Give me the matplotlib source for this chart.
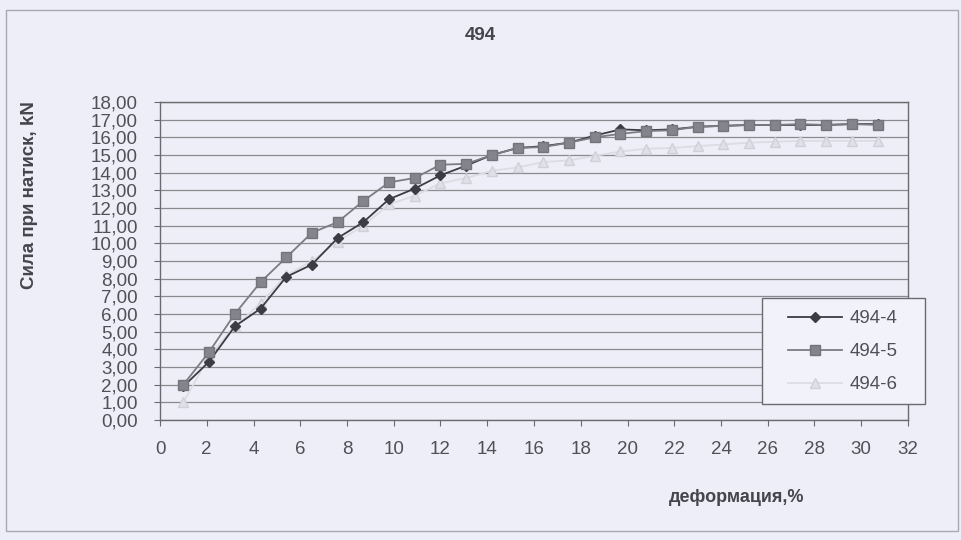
import matplotlib
matplotlib.use("Agg")
import matplotlib.pyplot as plt
from matplotlib.patches import Rectangle
from matplotlib.ticker import FuncFormatter, MultipleLocator

plt.rcParams['font.family'] = ['Liberation Sans', 'DejaVu Sans']

# deformation, %
deformation = [1.0, 2.1, 3.2, 4.3, 5.4, 6.5, 7.6, 8.7, 9.8, 10.9, 12.0, 13.1, 14.2, 15.3,
               16.4, 17.5, 18.6, 19.7, 20.8, 21.9, 23.0, 24.1, 25.2, 26.3, 27.4, 28.5, 29.6, 30.7]

# compression force, kN
s494_4 = [1.9, 3.3, 5.3, 6.3, 8.1, 8.8, 10.3, 11.2, 12.5, 13.1, 13.85, 14.4, 15.0, 15.4,
          15.5, 15.7, 16.1, 16.45, 16.4, 16.45, 16.6, 16.65, 16.7, 16.7, 16.7, 16.7, 16.75, 16.75]
s494_5 = [2.0, 3.85, 6.0, 7.8, 9.2, 10.6, 11.2, 12.4, 13.45, 13.7, 14.45, 14.5, 15.0, 15.4,
          15.45, 15.7, 16.0, 16.2, 16.35, 16.4, 16.6, 16.65, 16.7, 16.7, 16.75, 16.7, 16.75, 16.7]
s494_6 = [1.0, 3.6, 5.3, 6.6, 8.2, 9.0, 10.1, 11.0, 12.2, 12.7, 13.4, 13.7, 14.1, 14.3,
          14.6, 14.7, 14.95, 15.2, 15.35, 15.4, 15.5, 15.6, 15.7, 15.75, 15.8, 15.8, 15.8, 15.8]

labels = ['494-4', '494-5', '494-6']
title = '494'
xlabel = 'деформация,%'
ylabel = 'Сила при натиск, kN'

bg = '#eeeef8'
W, H = 962, 540
fig = plt.figure(figsize=(W / 100, H / 100), dpi=100, facecolor=bg)


def fig_rect(x0, y0, x1, y1, **kw):
    """Rectangle given in pixel coordinates measured from the top-left corner."""
    return Rectangle((x0 / W, 1 - y1 / H), (x1 - x0) / W, (y1 - y0) / H,
                     transform=fig.transFigure, **kw)


# outer chart frame
fig.add_artist(fig_rect(6, 10, 958, 531, fill=False, edgecolor='#a8a8b4', lw=1.0))

left, right, top, bottom = 160, 908, 102, 420
ax = fig.add_axes([left / W, 1 - bottom / H, (right - left) / W, (bottom - top) / H])
ax.set_facecolor(bg)

ax.set_xlim(0, 32)
ax.set_ylim(0, 18)
ax.xaxis.set_major_locator(MultipleLocator(2))
ax.yaxis.set_major_locator(MultipleLocator(1))
ax.yaxis.set_major_formatter(FuncFormatter(lambda v, p: f'{v:.2f}'.replace('.', ',')))
ax.grid(axis='y', color='#8a8a90', lw=0.9)
ax.set_axisbelow(True)
for s in ax.spines.values():
    s.set_color('#6a6a70')
    s.set_linewidth(1.0)
ax.tick_params(axis='both', colors='#6a6a70', labelcolor='#505058', labelsize=13.5,
               direction='out', length=4)
ax.tick_params(axis='x', pad=11)
ax.tick_params(axis='y', pad=12)

ax.plot(deformation, s494_6, color='#dcdce4', lw=1.3, marker='^', ms=7,
        mfc='#e0e0e8', mec='#d0d0d8', label=labels[2], zorder=3)
ax.plot(deformation, s494_4, color='#3c3c44', lw=1.3, marker='D', ms=5.5,
        mfc='#3c3c44', mec='#3c3c44', label=labels[0], zorder=4)
ax.plot(deformation, s494_5, color='#7c7c84', lw=1.3, marker='s', ms=7,
        mfc='#84848c', mec='#74747c', label=labels[1], zorder=5)

# legend frame, drawn on its own so it can reach past the plot area
fig.add_artist(fig_rect(762, 298, 925, 404, facecolor='#f2f2fa', edgecolor='#6a6a70',
                        lw=1.0, zorder=6))

handles, hl = ax.get_legend_handles_labels()
order = [1, 2, 0]
leg = fig.legend([handles[i] for i in order], [hl[i] for i in order],
                 loc='upper left', bbox_to_anchor=(788 / W, 1 - 310 / H),
                 bbox_transform=fig.transFigure, frameon=False, fontsize=13.5,
                 handlelength=2.9, labelspacing=0.85, borderpad=0, handletextpad=0.4,
                 borderaxespad=0)
leg.set_zorder(7)
for t in leg.get_texts():
    t.set_color('#505058')

fig.text(480 / W, 1 - 35 / H, title, ha='center', va='center', fontsize=13.5,
         fontweight='bold', color='#45454d')
fig.text(737 / W, 1 - 497 / H, xlabel, ha='center', va='center', fontsize=13,
         fontweight='bold', color='#45454d')
fig.text(30 / W, 1 - 195 / H, ylabel, ha='center', va='center', rotation=90,
         fontsize=13.5, fontweight='bold', color='#45454d')

fig.savefig('out.png', dpi=100, facecolor=bg)
